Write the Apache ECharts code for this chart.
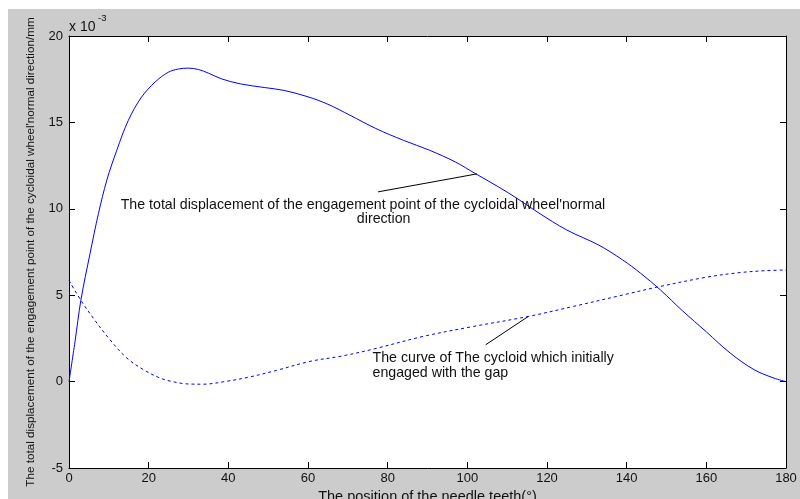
<!DOCTYPE html>
<html>
<head>
<meta charset="utf-8">
<script src="https://cdn.jsdelivr.net/npm/echarts@6/dist/echarts.min.js"></script>
<style>
  html, body { margin: 0; padding: 0; background: #fff; }
  #wrap { position: relative; width: 800px; height: 499px; overflow: hidden; }
  #frame { position: absolute; left: 8px; top: 9px; right: 0; bottom: 0; background: #cccccc; }
  #chart { position: absolute; left: 0; top: 0; width: 800px; height: 499px; }
</style>
</head>
<body>
<div id="wrap"><div id="frame"></div><div id="chart"></div></div>
<script>
// Needle tooth position (deg) and total displacement of the engagement point (x 1e-3 mm)
const toothPos = [0, 1.5, 3, 5.3, 7.4, 9.5, 12, 14.9, 18.2, 21.6, 24.9, 27.5, 30, 32.5, 35, 38.3, 43, 49, 54, 60, 65,
                  70.5, 77, 84, 90.5, 97, 102, 107.8, 112.5, 118, 125, 133, 139, 143.5, 148.5, 154, 160, 166, 172, 177, 180];
const totalDisp = [0, 2.3, 4.73, 7.43, 9.73, 11.66, 13.39, 15.12, 16.46, 17.33, 17.9, 18.09, 18.14, 18.06, 17.85, 17.52, 17.23, 17.02, 16.85, 16.48, 16.05,
                   15.42, 14.65, 13.96, 13.39, 12.71, 12.04, 11.27, 10.6, 9.75, 8.77, 7.9, 7.04, 6.27, 5.3, 4.1, 2.88, 1.65, 0.69, 0.2, 0];

// Cycloid curve initially engaged with the gap
const gapPos = [0, 3.2, 6.1, 10.3, 14.5, 18.7, 22.8, 26, 29.5, 33.7, 39.6, 45.4, 52.1, 60.5, 68.5, 76.4,
                89, 101.5, 115.3, 126.6, 139.2, 147.5, 160, 168.5, 175, 180];
const gapDisp = [5.85, 4.63, 3.67, 2.42, 1.37, 0.69, 0.21, 0.0, -0.13, -0.15, 0.02, 0.27, 0.65, 1.17, 1.48, 1.88,
                 2.62, 3.19, 3.77, 4.35, 5.02, 5.46, 6.04, 6.31, 6.42, 6.46];

// Axis ranges and ticks
const xRange = [0, 180], xStep = 20;
const yRange = [-5, 20], yStep = 5;

// Annotation texts, their anchors and pointer segments (data units)
const note1Lines = ["The total displacement of the engagement point of the cycloidal wheel'normal", "direction"];
const note1Anchors = [[73.8, 10.2], [79.0, 9.4]];
const note1Pointer = [[77.6, 10.98], [102.4, 12.02]];
const note2Lines = ["The curve of The cycloid which initially", "engaged with the gap"];
const note2Anchors = [[76.2, 1.34], [76.2, 0.50]];
const note2Pointer = [[104.6, 2.13], [115.3, 3.77]];

const FONT = "'Liberation Sans', Arial, Helvetica, sans-serif";
const INK = '#111';

function zip(xs, ys) { return xs.map((x, i) => [x, ys[i]]); }

function xAxisCfg(position, withLabels) {
  return {
    type: 'value', position: position, min: xRange[0], max: xRange[1], interval: xStep,
    axisLine: { show: true, onZero: false, lineStyle: { color: '#000', width: 1 } },
    axisTick: { show: true, inside: true, length: 6, lineStyle: { color: '#000' } },
    axisLabel: { show: withLabels, color: INK, fontSize: 13, fontFamily: FONT, margin: 4 },
    splitLine: { show: false }
  };
}
function yAxisCfg(position, withLabels) {
  return {
    type: 'value', position: position, min: yRange[0], max: yRange[1], interval: yStep,
    axisLine: { show: true, onZero: false, lineStyle: { color: '#000', width: 1 } },
    axisTick: { show: true, inside: true, length: 6, lineStyle: { color: '#000' } },
    axisLabel: { show: withLabels, color: INK, fontSize: 13, fontFamily: FONT, margin: 6 },
    splitLine: { show: false }
  };
}

const chart = echarts.init(document.getElementById('chart'), null, { renderer: 'canvas' });

const xBottom = xAxisCfg('bottom', true);
xBottom.name = 'The position of the needle teeth(\u00B0)';
xBottom.nameLocation = 'middle';
xBottom.nameGap = 16;
xBottom.nameTextStyle = { color: INK, fontSize: 14.5, fontFamily: FONT };

const option = {
  backgroundColor: 'transparent',
  animation: false,
  grid: { left: 69, right: 14, top: 36, bottom: 31, containLabel: false, outerBoundsMode: 'none',
          show: true, backgroundColor: '#ffffff', borderWidth: 0 },
  xAxis: [xBottom, xAxisCfg('top', false)],
  yAxis: [yAxisCfg('left', true), yAxisCfg('right', false)],
  series: [
    {
      name: 'total', type: 'line', xAxisIndex: 0, yAxisIndex: 0,
      data: zip(toothPos, totalDisp), smooth: 0.35,
      showSymbol: false, lineStyle: { color: '#0000ff', width: 1 }, z: 3,
      markLine: {
        silent: true, symbol: 'none', label: { show: false },
        lineStyle: { color: '#000', width: 1, type: 'solid' },
        data: [[{ coord: note1Pointer[0] }, { coord: note1Pointer[1] }]]
      }
    },
    {
      name: 'gap', type: 'line', xAxisIndex: 0, yAxisIndex: 0,
      data: zip(gapPos, gapDisp), smooth: 0.35,
      showSymbol: false, lineStyle: { color: '#0000ff', width: 1, type: [3, 3] }, z: 3,
      markLine: {
        silent: true, symbol: 'none', label: { show: false },
        lineStyle: { color: '#000', width: 1, type: 'solid' },
        data: [[{ coord: note2Pointer[0] }, { coord: note2Pointer[1] }]]
      }
    }
  ]
};
chart.setOption(option);

// Text annotations placed through the axes' own scales
const toPx = (pt) => chart.convertToPixel({ xAxisIndex: 0, yAxisIndex: 0 }, pt);
const textStyle = (extra) => Object.assign({ fill: INK, fontSize: 14.2, fontFamily: FONT }, extra);
const graphics = [];
note1Lines.forEach((t, i) => {
  const p = toPx(note1Anchors[i]);
  graphics.push({ type: 'text', x: p[0], y: p[1], z: 10,
    style: textStyle({ text: t, textAlign: 'center', textVerticalAlign: 'middle' }) });
});
note2Lines.forEach((t, i) => {
  const p = toPx(note2Anchors[i]);
  graphics.push({ type: 'text', x: p[0], y: p[1], z: 10,
    style: textStyle({ text: t, textAlign: 'left', textVerticalAlign: 'middle' }) });
});

// Exponent marker above the top-left corner of the axes
const corner = toPx([xRange[0], yRange[1]]);
graphics.push({ type: 'text', x: corner[0], y: corner[1] - 9, z: 10,
  style: textStyle({ text: 'x 10', fontSize: 14, textAlign: 'left', textVerticalAlign: 'middle' }) });
graphics.push({ type: 'text', x: corner[0] + 29, y: corner[1] - 18, z: 10,
  style: textStyle({ text: '-3', fontSize: 9.5, textAlign: 'left', textVerticalAlign: 'middle' }) });

// Vertical axis title
const mid = toPx([xRange[0], (yRange[0] + yRange[1]) / 2]);
graphics.push({ type: 'text', x: corner[0] - 38, y: mid[1], rotation: Math.PI / 2, z: 10,
  style: textStyle({ text: "The total displacement of the engagement point of the cycloidal wheel'normal direction/mm",
    fontSize: 11.7, textAlign: 'center', textVerticalAlign: 'middle' }) });

chart.setOption({ graphic: graphics });
</script>
</body>
</html>
